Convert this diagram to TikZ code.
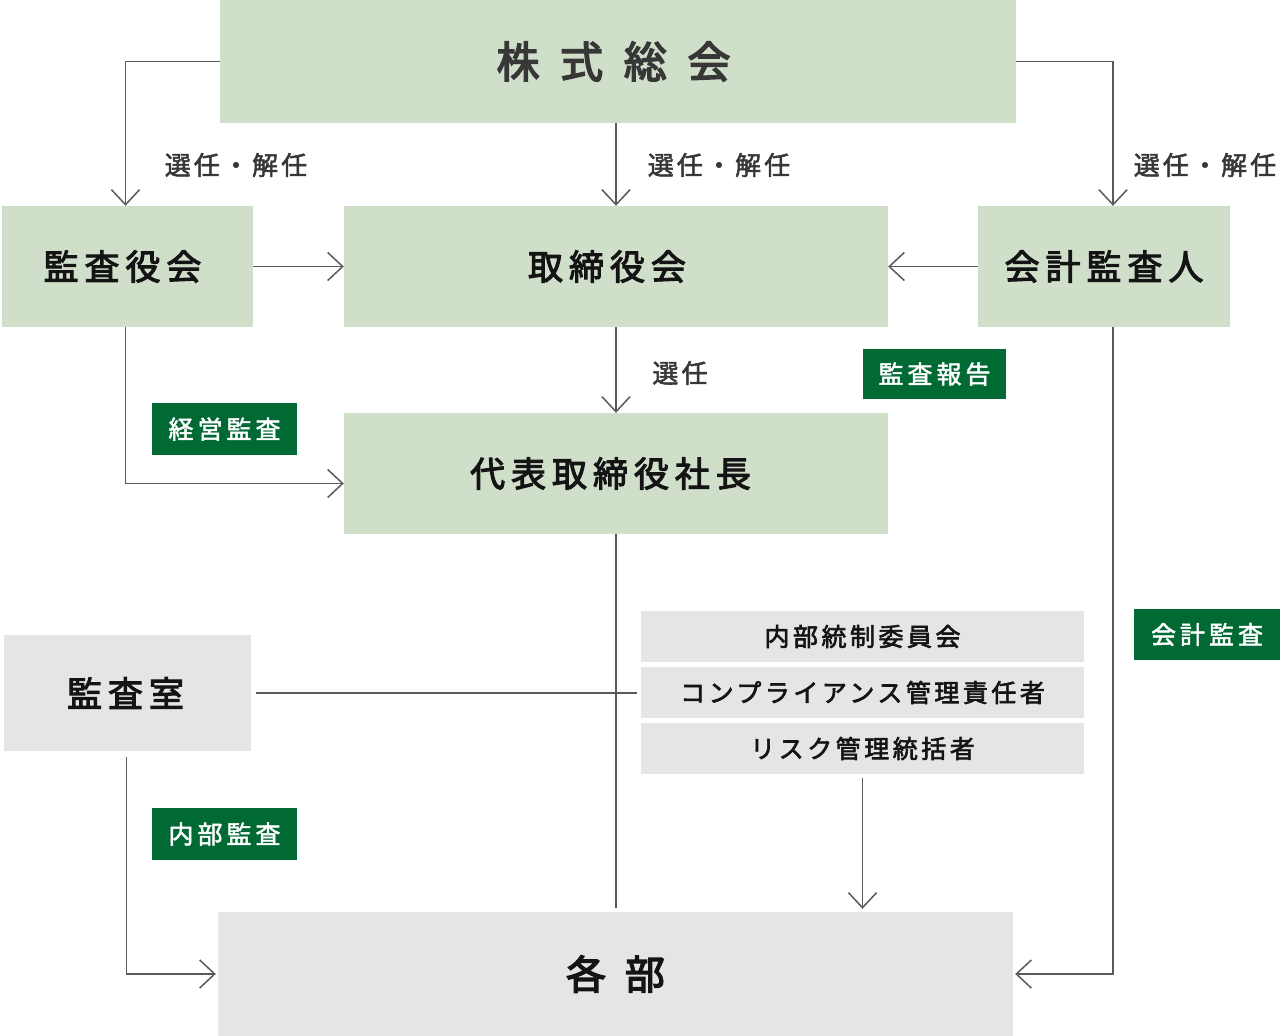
\documentclass[tikz,border=0pt]{standalone}
\usepackage{fontspec}
\setmainfont{Noto Sans CJK JP}
\usetikzlibrary{arrows.meta}
\definecolor{boxgreen}{RGB}{208,223,202}
\definecolor{boxgray}{RGB}{229,229,228}
\definecolor{taggreen}{RGB}{0,105,52}
\definecolor{linegray}{RGB}{90,90,90}
\definecolor{txtdark}{RGB}{20,20,20}
\definecolor{txttitle}{RGB}{55,55,55}
\tikzset{
  gbox/.style={rectangle, fill=boxgreen, draw=none, inner sep=0pt, text=txtdark,
    font=\fontsize{35}{35}\selectfont\addfontfeature{LetterSpace=17,FakeBold=3}},
  graybox/.style={gbox, fill=boxgray},
  stackbox/.style={rectangle, fill=boxgray, draw=none, inner sep=0pt, text=txtdark,
    minimum width=443pt, minimum height=51pt,
    font=\fontsize{25}{25}\selectfont\addfontfeature{LetterSpace=14,FakeBold=2.5}},
  tag/.style={rectangle, fill=taggreen, draw=none, inner sep=0pt, text=white,
    font=\fontsize{25}{25}\selectfont\addfontfeature{LetterSpace=16,FakeBold=2}},
  lbl/.style={inner sep=0pt, text=txttitle,
    font=\fontsize{26}{26}\selectfont\addfontfeature{LetterSpace=12,FakeBold=2}},
  conn/.style={draw=linegray, line width=1.5pt},
  arr/.style={conn, -{Straight Barb[length=15pt,width=28pt,line width=1.5pt]}},
}
\begin{document}
\begin{tikzpicture}[x=1pt,y=-1pt]
\useasboundingbox (0,0) rectangle (1280,1036);
% boxes
\node[gbox, minimum width=796pt, minimum height=123pt, text=txttitle,
  font=\fontsize{43}{43}\selectfont\addfontfeature{LetterSpace=48,FakeBold=3.5}] (sh) at (618,61.5) {株式総会\kern9pt};
\node[gbox, minimum width=251pt, minimum height=121pt] (ksy) at (127.5,266.5) {監査役会\kern10pt};
\node[gbox, minimum width=544pt, minimum height=121pt] (tor) at (616,266.5) {取締役会\kern18pt};
\node[gbox, minimum width=252pt, minimum height=121pt] (kai) at (1104,266.5) {会計監査人};
\node[gbox, minimum width=544pt, minimum height=121pt] (dai) at (616,473.5) {代表取締役社長\kern11pt};
\node[graybox, minimum width=247pt, minimum height=116pt] (ksh) at (127.5,693) {監査室\kern4pt};
\node[stackbox] (nai) at (862.5,636.5) {内部統制委員会};
\node[stackbox] (cmp) at (862.5,692.5) {コンプライアンス管理責任者};
\node[stackbox] (rsk) at (862.5,748.5) {リスク管理統括者};
\node[graybox, minimum width=795pt, minimum height=124pt,
  font=\fontsize{40}{40}\selectfont\addfontfeature{LetterSpace=47,FakeBold=3.5}] (kak) at (615.5,974) {各部};
% tags
\node[tag, minimum width=145pt, minimum height=52pt] (t1) at (224.5,429) {経営監査};
\node[tag, minimum width=143pt, minimum height=50pt] (t2) at (934.5,374) {監査報告};
\node[tag, minimum width=146pt, minimum height=51pt] (t3) at (1207,634.5) {会計監査};
\node[tag, minimum width=145pt, minimum height=52pt] (t4) at (224.5,834) {内部監査};
% labels
\node[lbl] (l1) at (236,165) {選任・解任};
\node[lbl] (l2) at (719,165) {選任・解任};
\node[lbl] (l3) at (1205,165) {選任・解任};
\node[lbl] (l4) at (680,373) {選任};
% connectors
\draw[arr] (sh.west) -| ([xshift=-2pt]ksy.north);
\draw[arr] (tor.north |- sh.south) -- (tor.north);
\draw[arr] (sh.east) -| ([xshift=9pt]kai.north);
\draw[arr] (ksy.east) -- (tor.west);
\draw[arr] (kai.west) -- (tor.east);
\draw[arr] (tor.south) -- (dai.north);
\draw[arr] ([xshift=-2pt]ksy.south) |- ([yshift=-10pt]dai.west);
\draw[conn] (dai.south) -- ([yshift=4pt]dai.south |- kak.north);
\draw[conn, shorten <=5pt, shorten >=4pt] (ksh.east) -- (ksh.east -| cmp.west);
\draw[arr, shorten <=6pt, shorten >=2pt] ([xshift=-1pt]ksh.south) |- (kak.west);
\draw[arr, shorten <=4pt, shorten >=3pt] (rsk.south) -- (rsk.south |- kak.north);
\draw[arr, shorten >=2pt] ([xshift=9pt]kai.south) |- (kak.east);
\end{tikzpicture}
\end{document}
